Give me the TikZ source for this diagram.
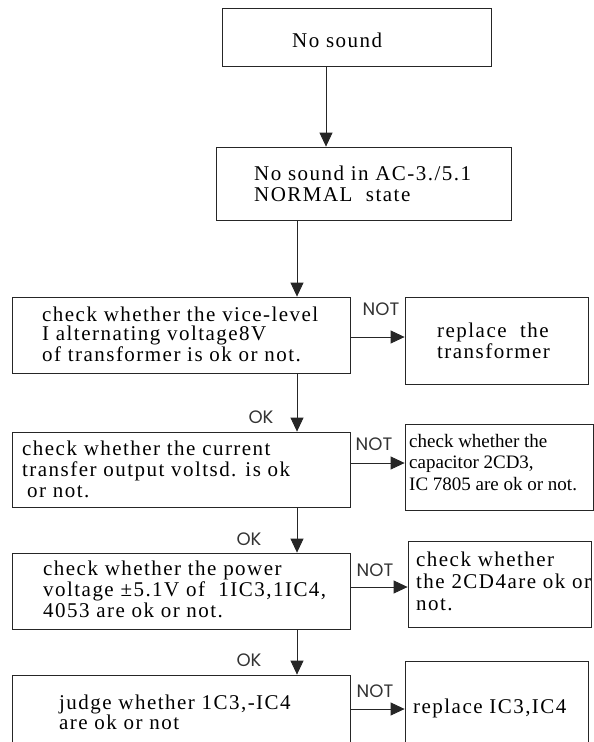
\documentclass[tikz,border=0pt]{standalone}
\usepackage{fontspec}
\setmainfont{Liberation Serif}
\newfontfamily\boxfont{Liberation Serif}[LetterSpace=7]
\newfontfamily\labfont{Poppins}
\usetikzlibrary{arrows.meta}

\begin{document}
\begin{tikzpicture}[x=1pt,y=-1pt]

\tikzset{box/.style = {shape=rectangle,draw=black!85,line width=0.8pt,minimum width=#1}}
\tikzset{txt/.style = {anchor=base west,align=left,inner sep=0pt,font=\boxfont\fontsize{21}{#1}\selectfont}}
\tikzset{note/.style = {inner sep=0pt,font=\labfont\fontsize{18}{18}\selectfont,text=black!80}}
\tikzset{edge/.style = {draw=black!85,line width=0.8pt,-{Triangle[length=14pt,width=13pt]}}}

\useasboundingbox (0,0) rectangle (594,742);
\clip (0,0) rectangle (594,742);

%boxes
\node[box=269pt, minimum height=58pt] (1) at (356.5,37) {};
\node[box=295pt, minimum height=73pt] (2) at (363.5,183.5) {};
\node[box=338pt, minimum height=76pt] (3) at (181,335) {};
\node[box=338pt, minimum height=75pt] (4) at (181,469.5) {};
\node[box=338pt, minimum height=76pt] (5) at (181,591) {};
\node[box=338pt, minimum height=85pt] (6) at (181,717.5) {};
\node[box=183pt, minimum height=87pt] (7) at (496.5,340.5) {};
\node[box=188pt, minimum height=86pt] (8) at (499,467) {};
\node[box=183pt, minimum height=86pt] (9) at (499.5,584) {};
\node[box=183pt, minimum height=99pt] (10) at (496.5,710.5) {};

%texts (placed at the baseline of the last line)
\node[txt=20pt] (t1) at (292,47) {No sound};
\node[txt=21pt] (t2) at (254,201) {No sound in AC-3./5.1\\NORMAL\ \ state};
\node[txt=19pt] (t3) at (42,361) {check whether the vice-level\\I alternating voltage8V\\of transformer is ok or not.};
\node[txt=21pt] (t4) at (22,497) {check whether the current\\transfer output voltsd. is ok\\\hspace{5pt}or not.};
\node[txt=21pt] (t5) at (43,617) {check whether the power\\voltage ±5.1V of\ \ 1IC3,1IC4,\\4053 are ok or not.};
\node[txt=20pt] (t6) at (59,729) {judge whether 1C3,-IC4\\are ok or not};
\node[txt=21pt] (t7) at (437,358) {replace\ \ the\\transformer};
\node[anchor=base west, align=left, inner sep=0pt, font=\fontsize{19}{21.5pt}\selectfont] (t8) at (409,490) {check whether the\\capacitor 2CD3,\\IC 7805 are ok or not.};
\node[txt=22pt] (t9) at (416,610) {check whether\\the 2CD4are ok or\\not.};
\node[txt=20pt] (t10) at (413,713) {replace IC3,IC4};

%labels
\node[note] (n3) at (381,309) {NOT};
\node[note] (n4) at (374,444) {NOT};
\node[note] (n5) at (375,570) {NOT};
\node[note] (n6) at (375,691) {NOT};
\node[note] (o4) at (261,417) {OK};
\node[note] (o5) at (249,539) {OK};
\node[note] (o6) at (249,660) {OK};

%edges
\draw [edge] (1.south -| 326,0) -- (2.north -| 326,0);
\draw [edge] (2.south -| 297,0) -- (3.north -| 297,0);
\draw [edge] (3.south -| 297,0) -- (4.north -| 297,0);
\draw [edge] (4.south -| 297,0) -- (5.north -| 297,0);
\draw [edge] (5.south -| 297,0) -- (6.north -| 297,0);
\draw [edge] (3.east |- 0,337) -- (7.west |- 0,337);
\draw [edge] (4.east |- 0,463) -- (8.west |- 0,463);
\draw [edge] (5.east |- 0,587) -- (9.west |- 0,587);
\draw [edge] (6.east |- 0,709) -- (10.west |- 0,709);

\end{tikzpicture}
\end{document}
